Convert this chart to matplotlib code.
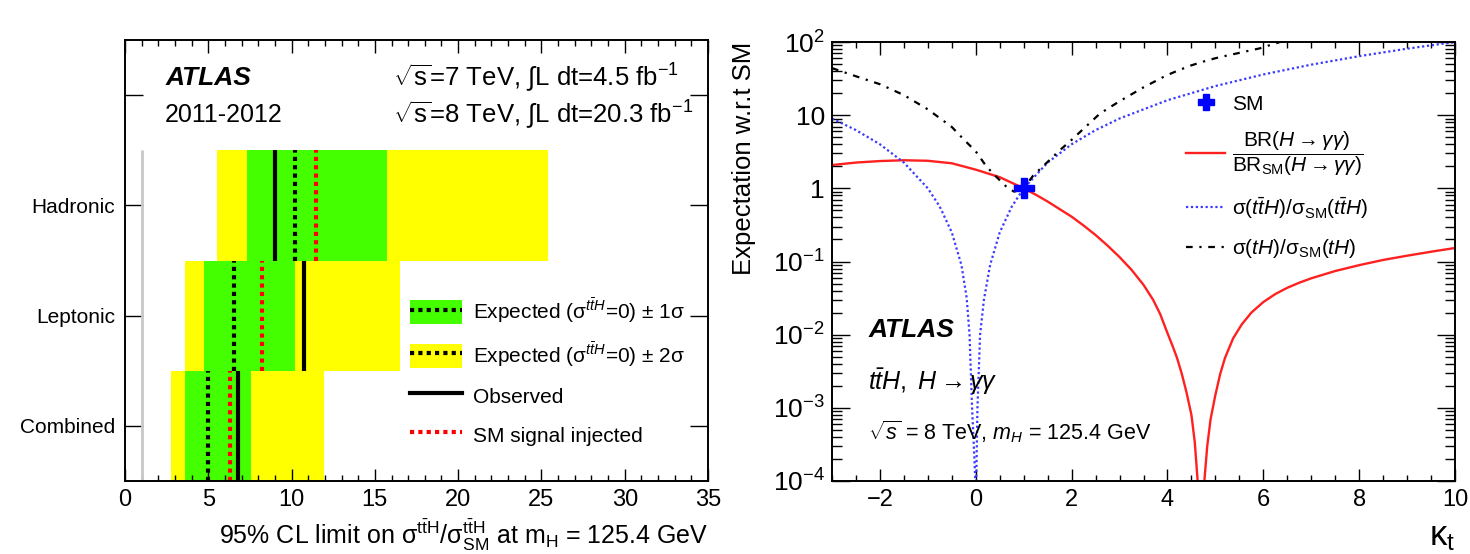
import numpy as np
import matplotlib
matplotlib.use('Agg')
import matplotlib.pyplot as plt
from matplotlib.patches import Patch
from matplotlib.lines import Line2D
from matplotlib.ticker import MultipleLocator, FixedLocator, LogLocator, FuncFormatter, NullFormatter

plt.rcParams['font.family'] = ['Liberation Sans', 'DejaVu Sans']
plt.rcParams['mathtext.fontset'] = 'custom'
plt.rcParams['mathtext.rm'] = 'Liberation Sans'
plt.rcParams['mathtext.it'] = 'Liberation Sans:italic'
plt.rcParams['mathtext.bf'] = 'Liberation Sans:bold'
plt.rcParams['axes.linewidth'] = 1.4

# --- left panel: 95% CL limits per category (bottom to top)
categories = ['Combined', 'Leptonic', 'Hadronic']
observed = [6.77, 10.75, 9.0]
expected = [5.0, 6.56, 10.2]
sm_injected = [6.3, 8.2, 11.45]
band1_lo = [3.6, 4.76, 7.35]
band1_hi = [7.55, 10.2, 15.7]
band2_lo = [2.74, 3.6, 5.5]
band2_hi = [11.95, 16.5, 25.4]

# --- right panel: expectation w.r.t SM vs kappa_t
kappa_br = [-3.0, -2.5, -2.0, -1.5, -1.0, -0.5, 0.0, 0.5, 1.0, 1.25, 1.5, 1.75, 2.0, 2.25, 2.5, 2.75,
            3.0, 3.25, 3.5, 3.7, 3.85, 4.0, 4.1, 4.2, 4.3, 4.4, 4.5, 4.57, 4.63, 4.7,
            4.77, 4.83, 4.9, 5.0, 5.1, 5.2, 5.37, 5.55, 5.75, 6.0, 6.25, 6.5, 6.75, 7.0,
            7.5, 8.0, 8.5, 9.0, 9.5, 10.0]
br_ratio = [2.08, 2.25, 2.36, 2.42, 2.38, 2.2, 1.8, 1.42, 1.0, 0.82, 0.66, 0.52, 0.41, 0.31, 0.23, 0.165,
            0.115, 0.077, 0.048, 0.030, 0.019, 0.0105, 0.0072, 0.0048, 0.0029, 0.0016, 8e-4, 3.4e-4, 1e-4, 1e-6,
            1e-4, 3e-4, 7e-4, 1.5e-3, 2.9e-3, 4.8e-3, 0.0089, 0.0138, 0.020, 0.0279, 0.0359, 0.0437, 0.0513, 0.0589,
            0.0741, 0.0891, 0.105, 0.120, 0.136, 0.153]

kappa_tth = [-3.0, -2.5, -2.0, -1.5, -1.0, -0.75, -0.5, -0.3, -0.19, -0.13, -0.077, -0.04, -0.01, 0.0,
             0.01, 0.035, 0.09, 0.17, 0.3, 0.5, 0.75, 1.0, 1.5, 2.0, 2.5, 3.0, 4.0, 5.0, 6.0, 7.0, 8.0, 9.0, 10.0]
tth_ratio = [9.0, 6.25, 4.0, 2.25, 1.0, 0.56, 0.25, 0.09, 0.032, 0.01, 1e-3, 3e-4, 1e-4, 1e-6,
             1e-4, 1e-3, 0.01, 0.03, 0.09, 0.25, 0.56, 1.0, 2.25, 4.0, 6.25, 9.0, 16.0, 25.0, 36.0, 49.0, 64.0, 81.0, 100.0]

kappa_th = [-3.0, -2.5, -2.0, -1.66, -1.5, -1.0, -0.5, -0.27, 0.0, 0.22, 0.4, 0.64, 0.8, 1.0,
            1.2, 1.5, 1.75, 2.0, 2.3, 2.59, 3.0, 3.5, 3.98, 4.25, 4.5, 4.75, 5.0, 5.25, 5.5, 5.7,
            5.93, 6.1, 6.35, 6.8]
th_ratio = [44.0, 34.0, 26.5, 21.0, 18.8, 12.0, 6.9, 4.8, 3.2, 2.0, 1.5, 1.05, 0.9, 1.0,
            1.5, 2.3, 3.3, 4.6, 7.0, 10.5, 15.5, 24.0, 35.0, 41.5, 48.0, 54.0, 60.0, 65.5, 71.0, 76.0,
            82.0, 89.0, 100.0, 118.0]

fig = plt.figure(figsize=(14.7, 5.54), dpi=100)

# ================= left panel =================
ax1 = fig.add_axes([125 / 1470, 1 - 481 / 554, 583 / 1470, 441 / 554])
ypos = np.arange(len(categories)) + 0.5
green = '#44ff00'
yellow = '#ffff00'
ax1.barh(ypos, np.array(band2_hi) - np.array(band2_lo), left=band2_lo, height=1.0, color=yellow, lw=0)
ax1.barh(ypos, np.array(band1_hi) - np.array(band1_lo), left=band1_lo, height=1.0, color=green, lw=0)
ax1.vlines(expected, ypos - 0.5, ypos + 0.5, colors='black', lw=3, linestyles=(0, (1, 1)))
ax1.vlines(sm_injected, ypos - 0.5, ypos + 0.5, colors='red', lw=3, linestyles=(0, (1, 1)))
ax1.vlines(observed, ypos - 0.5, ypos + 0.5, colors='black', lw=3)
ax1.vlines([1.0], 0, 3, colors='#c8c8c8', lw=2)

ax1.set_xlim(0, 35)
ax1.set_ylim(0, 4)
ax1.xaxis.set_major_locator(MultipleLocator(5))
ax1.xaxis.set_minor_locator(MultipleLocator(1))
ax1.yaxis.set_major_locator(FixedLocator([0.5, 1.5, 2.5, 3.5]))
ax1.set_yticklabels(categories + [''])
ax1.tick_params(axis='both', which='both', direction='in', top=True, right=True)
ax1.tick_params(axis='x', which='major', length=9, width=1, labelsize=17, pad=6)
ax1.tick_params(axis='x', which='minor', length=4.5, width=1)
ax1.tick_params(axis='y', which='major', length=13, width=1, labelsize=15, pad=7)
ax1.set_xlabel(r'95% CL limit on $\mathrm{\sigma}^{\mathrm{t\bar{t}H}}$/$\mathrm{\sigma}^{\mathrm{t\bar{t}H}}_{\mathrm{SM}}$ at m$_{\mathrm{H}}$ = 125.4 GeV',
               loc='right', fontsize=18, labelpad=4)

ax1.text(0.069, 0.914, 'ATLAS', transform=ax1.transAxes, fontsize=19, fontweight='bold',
         fontstyle='italic', va='center')
ax1.text(0.069, 0.83, '2011-2012', transform=ax1.transAxes, fontsize=18, va='center')
ax1.text(0.46, 0.914, r'$\sqrt{\mathrm{s}}$=7 TeV, $\int$L dt=4.5 fb$^{\mathrm{-1}}$',
         transform=ax1.transAxes, fontsize=18.5, va='center')
ax1.text(0.46, 0.83, r'$\sqrt{\mathrm{s}}$=8 TeV, $\int$L dt=20.3 fb$^{\mathrm{-1}}$',
         transform=ax1.transAxes, fontsize=18.5, va='center')

h_exp1 = (Patch(facecolor=green, lw=0), Line2D([], [], color='black', lw=3, ls=(0, (1, 1))))
h_exp2 = (Patch(facecolor=yellow, lw=0), Line2D([], [], color='black', lw=3, ls=(0, (1, 1))))
h_obs = Line2D([], [], color='black', lw=3)
h_sm = Line2D([], [], color='red', lw=3, ls=(0, (1, 1)))
ax1.legend([h_exp1, h_exp2, h_obs, h_sm],
           [r'Expected ($\mathrm{\sigma}^{t\bar{t}H}$=0) $\pm$ 1$\mathrm{\sigma}$',
            r'Expected ($\mathrm{\sigma}^{t\bar{t}H}$=0) $\pm$ 2$\mathrm{\sigma}$',
            'Observed', 'SM signal injected'],
           loc='upper left', bbox_to_anchor=(0.489, 0.417), frameon=False, fontsize=15,
           handlelength=2.5, handleheight=1.4, handletextpad=0.5, labelspacing=0.72,
           borderpad=0, borderaxespad=0)

# ================= right panel =================
ax2 = fig.add_axes([832 / 1470, 1 - 481 / 554, 623 / 1470, 439 / 554])
ax2.set_yscale('log')
ax2.plot(kappa_br, br_ratio, color='#ff2020', lw=1.7)
ax2.plot(kappa_tth, tth_ratio, color='#3a3aff', lw=1.6, ls=(0, (1, 1.2)))
ax2.plot(kappa_th, th_ratio, color='black', lw=1.6, ls=(0, (3, 3, 1, 3)))
ax2.plot([1.0], [1.0], marker='P', color='blue', ms=14, ls='none')

ax2.set_xlim(-3, 10)
ax2.set_ylim(1e-4, 1e2)
ax2.xaxis.set_major_locator(MultipleLocator(2))
ax2.xaxis.set_minor_locator(MultipleLocator(0.5))
ax2.yaxis.set_major_locator(LogLocator(base=10))
ax2.yaxis.set_minor_locator(LogLocator(base=10, subs=np.arange(2, 10)))
ax2.yaxis.set_minor_formatter(NullFormatter())


def log_label(v, pos):
    e = int(round(np.log10(v)))
    if e == 0:
        return '1'
    if e == 1:
        return '10'
    return r'10$^{\mathrm{%d}}$' % e


ax2.yaxis.set_major_formatter(FuncFormatter(log_label))
ax2.tick_params(axis='both', which='both', direction='in', top=True, right=True)
ax2.tick_params(axis='x', which='major', length=9, width=1, labelsize=17, pad=6)
ax2.tick_params(axis='x', which='minor', length=4.5, width=1)
ax2.tick_params(axis='y', which='major', length=13, width=1, labelsize=19, pad=5)
ax2.tick_params(axis='y', which='minor', length=7, width=1)
ax2.set_ylabel('Expectation w.r.t SM', loc='top', fontsize=18.5, labelpad=12)
ax2.set_xlabel(r'$\mathrm{\kappa}_{\mathrm{t}}$', loc='right', fontsize=25, labelpad=6)

ax2.text(0.058, 0.344, 'ATLAS', transform=ax2.transAxes, fontsize=19, fontweight='bold',
         fontstyle='italic', va='center')
ax2.text(0.058, 0.2255, r'$t\bar{t}H,\ H\rightarrow\gamma\gamma$', transform=ax2.transAxes,
         fontsize=18, va='center')
ax2.text(0.058, 0.112, r'$\sqrt{s}$ = 8 TeV, $m_{H}$ = 125.4 GeV', transform=ax2.transAxes,
         fontsize=15.5, va='center')

h2_sm = Line2D([], [], marker='P', color='blue', ms=12, ls='none')
h2_br = Line2D([], [], color='#ff2020', lw=1.7)
h2_tth = Line2D([], [], color='#3a3aff', lw=1.6, ls=(0, (1, 1.2)))
h2_th = Line2D([], [], color='black', lw=1.6, ls=(0, (3, 3, 1, 3)))
ax2.legend([h2_sm, h2_br, h2_tth, h2_th],
           ['SM',
            r'$\dfrac{\mathrm{BR}(H\rightarrow\gamma\gamma)}{\mathrm{BR}_{\mathrm{SM}}(H\rightarrow\gamma\gamma)}$',
            r'$\mathrm{\sigma}(t\bar{t}H)/\mathrm{\sigma}_{\mathrm{SM}}(t\bar{t}H)$',
            r'$\mathrm{\sigma}(tH)/\mathrm{\sigma}_{\mathrm{SM}}(tH)$'],
           loc='upper left', bbox_to_anchor=(0.568, 0.88), frameon=False, fontsize=15,
           handlelength=1.9, handletextpad=0.3, labelspacing=0.78, borderpad=0, borderaxespad=0)

fig.savefig('out.png', dpi=100)
